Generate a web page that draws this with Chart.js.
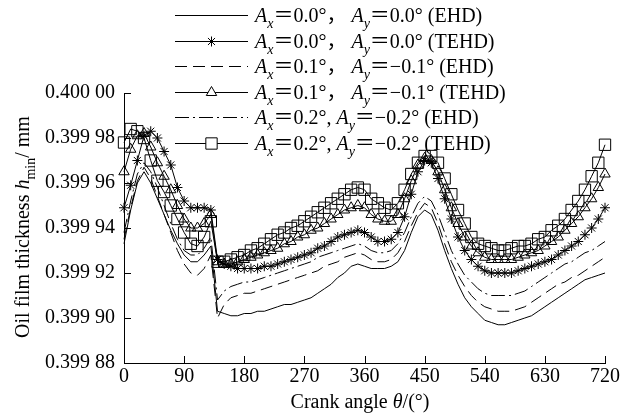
<!DOCTYPE html>
<html>
<head>
<meta charset="utf-8">
<script src="https://cdn.jsdelivr.net/npm/chart.js@4/dist/chart.umd.min.js"></script>
<style>
  html, body { margin: 0; padding: 0; background: #fff; }
  canvas { display: block; }
</style>
</head>
<body>
<canvas id="chart" width="633" height="416"></canvas>
<script>
// crank angle, deg
const crankAngles = [
  0, 10, 20, 30, 40, 50, 60, 70, 80, 90,
  100, 110, 120, 130, 140, 150, 160, 170, 180, 190,
  200, 210, 220, 230, 240, 250, 260, 270, 280, 290,
  300, 310, 320, 330, 340, 350, 360, 370, 380, 390,
  400, 410, 420, 430, 440, 450, 460, 470, 480, 490,
  500, 510, 520, 530, 540, 550, 560, 570, 580, 590,
  600, 610, 620, 630, 640, 650, 660, 670, 680, 690,
  700, 710, 720
];

// minimum oil film thickness, mm
const ax00Ehd = [
  0.399933, 0.399948, 0.399960, 0.399965, 0.399960, 0.399953, 0.399946, 0.399939, 0.399933, 0.399928,
  0.399925, 0.399925, 0.399928, 0.399932, 0.399903, 0.399902, 0.399901, 0.399901, 0.399902, 0.399902,
  0.399903, 0.399903, 0.399904, 0.399905, 0.399906, 0.399906, 0.399907, 0.399908, 0.399909, 0.399911,
  0.399913, 0.399915, 0.399918, 0.399920, 0.399923, 0.399924, 0.399923, 0.399922, 0.399922, 0.399922,
  0.399923, 0.399925, 0.399930, 0.399938, 0.399945, 0.399948, 0.399946, 0.399939, 0.399930, 0.399922,
  0.399915, 0.399909, 0.399905, 0.399902, 0.399899, 0.399898, 0.399897, 0.399897, 0.399898, 0.399899,
  0.399900, 0.399901, 0.399903, 0.399905, 0.399907, 0.399909, 0.399911, 0.399913, 0.399915, 0.399917,
  0.399918, 0.399919, 0.399920
];
const ax00Tehd = [
  0.399949, 0.399959, 0.399970, 0.399981, 0.399983, 0.399980, 0.399974, 0.399968, 0.399958, 0.399952,
  0.399949, 0.399949, 0.399949, 0.399948, 0.399926, 0.399924, 0.399923, 0.399922, 0.399922, 0.399922,
  0.399922, 0.399923, 0.399923, 0.399924, 0.399925, 0.399926, 0.399927, 0.399928, 0.399929, 0.399931,
  0.399932, 0.399934, 0.399936, 0.399937, 0.399938, 0.399939, 0.399938, 0.399936, 0.399934, 0.399934,
  0.399935, 0.399938, 0.399945, 0.399955, 0.399965, 0.399970, 0.399969, 0.399962, 0.399953, 0.399944,
  0.399936, 0.399930, 0.399926, 0.399923, 0.399921, 0.399920, 0.399920, 0.399920, 0.399920, 0.399921,
  0.399922, 0.399923, 0.399924, 0.399925, 0.399926, 0.399928, 0.399930, 0.399932, 0.399934, 0.399937,
  0.399940, 0.399944, 0.399949
];
const ax01Ehd = [
  0.399935, 0.399949, 0.399961, 0.399967, 0.399962, 0.399954, 0.399946, 0.399938, 0.399930, 0.399924,
  0.399920, 0.399919, 0.399922, 0.399928, 0.399900, 0.399906, 0.399909, 0.399910, 0.399911, 0.399911,
  0.399912, 0.399913, 0.399914, 0.399915, 0.399916, 0.399917, 0.399918, 0.399919, 0.399920, 0.399921,
  0.399923, 0.399924, 0.399925, 0.399927, 0.399928, 0.399929, 0.399928, 0.399926, 0.399925, 0.399925,
  0.399926, 0.399929, 0.399934, 0.399941, 0.399947, 0.399951, 0.399949, 0.399942, 0.399933, 0.399925,
  0.399919, 0.399914, 0.399910, 0.399907, 0.399905, 0.399904, 0.399903, 0.399903, 0.399903, 0.399904,
  0.399905, 0.399907, 0.399909, 0.399911, 0.399913, 0.399915, 0.399916, 0.399918, 0.399919, 0.399921,
  0.399923, 0.399925, 0.399927
];
const ax01Tehd = [
  0.399965, 0.399975, 0.399981, 0.399982, 0.399976, 0.399969, 0.399963, 0.399957, 0.399950, 0.399944,
  0.399940, 0.399940, 0.399942, 0.399946, 0.399925, 0.399924, 0.399924, 0.399925, 0.399926, 0.399927,
  0.399928, 0.399929, 0.399930, 0.399931, 0.399933, 0.399934, 0.399936, 0.399937, 0.399939, 0.399940,
  0.399942, 0.399944, 0.399946, 0.399948, 0.399949, 0.399950, 0.399949, 0.399946, 0.399944, 0.399943,
  0.399943, 0.399946, 0.399953, 0.399961, 0.399968, 0.399971, 0.399970, 0.399965, 0.399957, 0.399949,
  0.399942, 0.399936, 0.399932, 0.399929, 0.399927, 0.399926, 0.399926, 0.399926, 0.399926, 0.399927,
  0.399928, 0.399929, 0.399930, 0.399932, 0.399934, 0.399936, 0.399939, 0.399942, 0.399945, 0.399949,
  0.399953, 0.399958, 0.399964
];
const ax02Ehd = [
  0.399938, 0.399952, 0.399964, 0.399969, 0.399965, 0.399958, 0.399950, 0.399942, 0.399935, 0.399930,
  0.399928, 0.399928, 0.399931, 0.399936, 0.399908, 0.399912, 0.399914, 0.399915, 0.399916, 0.399916,
  0.399917, 0.399918, 0.399919, 0.399920, 0.399921, 0.399922, 0.399923, 0.399924, 0.399925, 0.399927,
  0.399928, 0.399929, 0.399930, 0.399931, 0.399932, 0.399933, 0.399932, 0.399930, 0.399929, 0.399929,
  0.399930, 0.399933, 0.399938, 0.399945, 0.399951, 0.399954, 0.399952, 0.399946, 0.399938, 0.399930,
  0.399924, 0.399919, 0.399916, 0.399913, 0.399911, 0.399910, 0.399910, 0.399910, 0.399910, 0.399911,
  0.399912, 0.399914, 0.399916, 0.399918, 0.399920, 0.399922, 0.399924, 0.399925, 0.399927, 0.399929,
  0.399930, 0.399932, 0.399934
];
const ax02Tehd = [
  0.399978, 0.399984, 0.399983, 0.399980, 0.399970, 0.399961, 0.399956, 0.399950, 0.399944, 0.399938,
  0.399933, 0.399932, 0.399936, 0.399943, 0.399925, 0.399925, 0.399926, 0.399927, 0.399928, 0.399930,
  0.399931, 0.399933, 0.399935, 0.399937, 0.399938, 0.399940, 0.399941, 0.399943, 0.399945, 0.399947,
  0.399949, 0.399951, 0.399953, 0.399955, 0.399957, 0.399958, 0.399957, 0.399953, 0.399951, 0.399949,
  0.399948, 0.399951, 0.399957, 0.399964, 0.399969, 0.399972, 0.399972, 0.399969, 0.399962, 0.399955,
  0.399948, 0.399942, 0.399936, 0.399933, 0.399932, 0.399931, 0.399930, 0.399930, 0.399931, 0.399932,
  0.399932, 0.399933, 0.399935, 0.399936, 0.399939, 0.399941, 0.399944, 0.399948, 0.399952, 0.399957,
  0.399963, 0.399969, 0.399977
];

// legend text pieces per series
const seriesAx = ['0.0', '0.0', '0.1', '0.1', '0.2', '0.2'];
const seriesAy = ['0.0', '0.0', '\u22120.1', '\u22120.1', '\u22120.2', '\u22120.2'];
const seriesModel = ['EHD', 'TEHD', 'EHD', 'TEHD', 'EHD', 'TEHD'];

const xTicks = [0, 90, 180, 270, 360, 450, 540, 630, 720];
const yTicks = [0.39988, 0.39990, 0.39992, 0.39994, 0.39996, 0.39998, 0.40000];
const yTickLabels = ['0.399 88', '0.399 90', '0.399 92', '0.399 94', '0.399 96', '0.399 98', '0.400 00'];

const FONT = "'Liberation Serif', 'Times New Roman', 'Noto Sans CJK SC', serif";

const styles = [
  { borderDash: [], pointStyle: false, radius: 0 },
  { borderDash: [], pointStyle: 'star', radius: 5 },
  { borderDash: [12, 6], pointStyle: false, radius: 0 },
  { borderDash: [], pointStyle: 'triangle', radius: 6 },
  { borderDash: [14, 4, 2, 4], pointStyle: false, radius: 0 },
  { borderDash: [], pointStyle: 'rect', radius: 8 }
];
const seriesData = [ax00Ehd, ax00Tehd, ax01Ehd, ax01Tehd, ax02Ehd, ax02Tehd];

const datasets = seriesData.map((vals, i) => ({
  label: seriesModel[i],
  data: crankAngles.map((a, j) => ({ x: a, y: vals[j] })),
  borderColor: '#000',
  borderWidth: 1,
  borderDash: styles[i].borderDash,
  pointStyle: styles[i].pointStyle || 'circle',
  pointRadius: styles[i].radius,
  pointBorderColor: '#000',
  pointBackgroundColor: 'rgba(0,0,0,0)',
  pointBorderWidth: 1,
  tension: 0,
  fill: false,
  clip: false
}));

// draw a run of text pieces (italic / subscript) left to right
function drawRich(ctx, parts, x, y, size) {
  parts.forEach(p => {
    const s = p.sub ? Math.round(size * 0.72) : size;
    ctx.font = (p.it ? 'italic ' : '') + s + 'px ' + FONT;
    ctx.fillText(p.t, x, y + (p.sub ? size * 0.3 : 0));
    x += ctx.measureText(p.t).width;
  });
  return x;
}
function richWidth(ctx, parts, size) {
  let w = 0;
  parts.forEach(p => {
    const s = p.sub ? Math.round(size * 0.72) : size;
    ctx.font = (p.it ? 'italic ' : '') + s + 'px ' + FONT;
    w += ctx.measureText(p.t).width;
  });
  return w;
}

const decor = {
  id: 'decor',
  afterDraw(chart) {
    const { ctx, chartArea, scales: { x, y } } = chart;
    ctx.save();
    ctx.strokeStyle = '#000';
    ctx.fillStyle = '#000';
    ctx.lineWidth = 1;

    // inward tick marks
    ctx.beginPath();
    y.ticks.forEach(t => {
      const py = Math.round(y.getPixelForValue(t.value)) + 0.5;
      ctx.moveTo(chartArea.left, py);
      ctx.lineTo(chartArea.left + 7, py);
    });
    x.ticks.forEach(t => {
      const px = Math.round(x.getPixelForValue(t.value)) + 0.5;
      ctx.moveTo(px, chartArea.bottom);
      ctx.lineTo(px, chartArea.bottom - 7);
    });
    ctx.stroke();

    // axis titles
    ctx.textBaseline = 'alphabetic';
    const xt = [{ t: 'Crank angle ' }, { t: '\u03b8', it: true }, { t: '/(\u00b0)' }];
    drawRich(ctx, xt, 360 - richWidth(ctx, xt, 20) / 2, 408, 20);

    const yt = [{ t: 'Oil film thickness ' }, { t: 'h', it: true }, { t: 'min', sub: true }, { t: '/ mm' }];
    ctx.save();
    ctx.translate(29, 227);
    ctx.rotate(-Math.PI / 2);
    drawRich(ctx, yt, -richWidth(ctx, yt, 20) / 2, 0, 20);
    ctx.restore();

    // legend
    const lx0 = 175, lx1 = 248, tx = 255, rowH = 25.6, top = 15;
    chart.data.datasets.forEach((ds, i) => {
      const ly = Math.round(top + i * rowH) + 0.5;
      ctx.setLineDash(ds.borderDash);
      ctx.beginPath();
      ctx.moveTo(lx0, ly);
      ctx.lineTo(lx1, ly);
      ctx.stroke();
      ctx.setLineDash([]);
      if (styles[i].pointStyle) {
        ctx.fillStyle = '#fff';
        Chart.helpers.drawPoint(ctx, {
          pointStyle: styles[i].pointStyle,
          radius: styles[i].radius,
          rotation: 0,
          borderWidth: 1
        }, (lx0 + lx1) / 2, ly);
        ctx.fillStyle = '#000';
      }
      const comma = i < 4 ? '\uff0c ' : ', ';
      drawRich(ctx, [
        { t: 'A', it: true }, { t: 'x', it: true, sub: true }, { t: '\uff1d' + seriesAx[i] + '\u00b0' + comma },
        { t: 'A', it: true }, { t: 'y', it: true, sub: true }, { t: '\uff1d' + seriesAy[i] + '\u00b0 (' + seriesModel[i] + ')' }
      ], tx, ly + 6, 20);
    });
    ctx.restore();
  }
};

new Chart(document.getElementById('chart'), {
  type: 'line',
  data: { datasets },
  options: {
    responsive: false,
    animation: false,
    layout: { padding: { left: 0, top: 93, right: 28, bottom: 0 } },
    plugins: { legend: { display: false }, tooltip: { enabled: false } },
    scales: {
      x: {
        type: 'linear',
        min: 0,
        max: 720,
        afterBuildTicks: axis => { axis.ticks = xTicks.map(v => ({ value: v })); },
        afterFit: axis => { axis.height = 53; },
        grid: { display: false, drawTicks: false },
        border: { display: true, color: '#000', width: 1 },
        ticks: { color: '#000', padding: 2, maxRotation: 0, font: { family: FONT, size: 20 } }
      },
      y: {
        type: 'linear',
        min: 0.39988,
        max: 0.40000,
        afterBuildTicks: axis => { axis.ticks = yTicks.map(v => ({ value: v })); },
        afterFit: axis => { axis.width = 124; },
        grid: { display: false, drawTicks: false },
        border: { display: true, color: '#000', width: 1 },
        ticks: {
          color: '#000',
          padding: 9,
          font: { family: FONT, size: 20 },
          callback: (v, i) => yTickLabels[i]
        }
      }
    }
  },
  plugins: [decor]
});
</script>
</body>
</html>
